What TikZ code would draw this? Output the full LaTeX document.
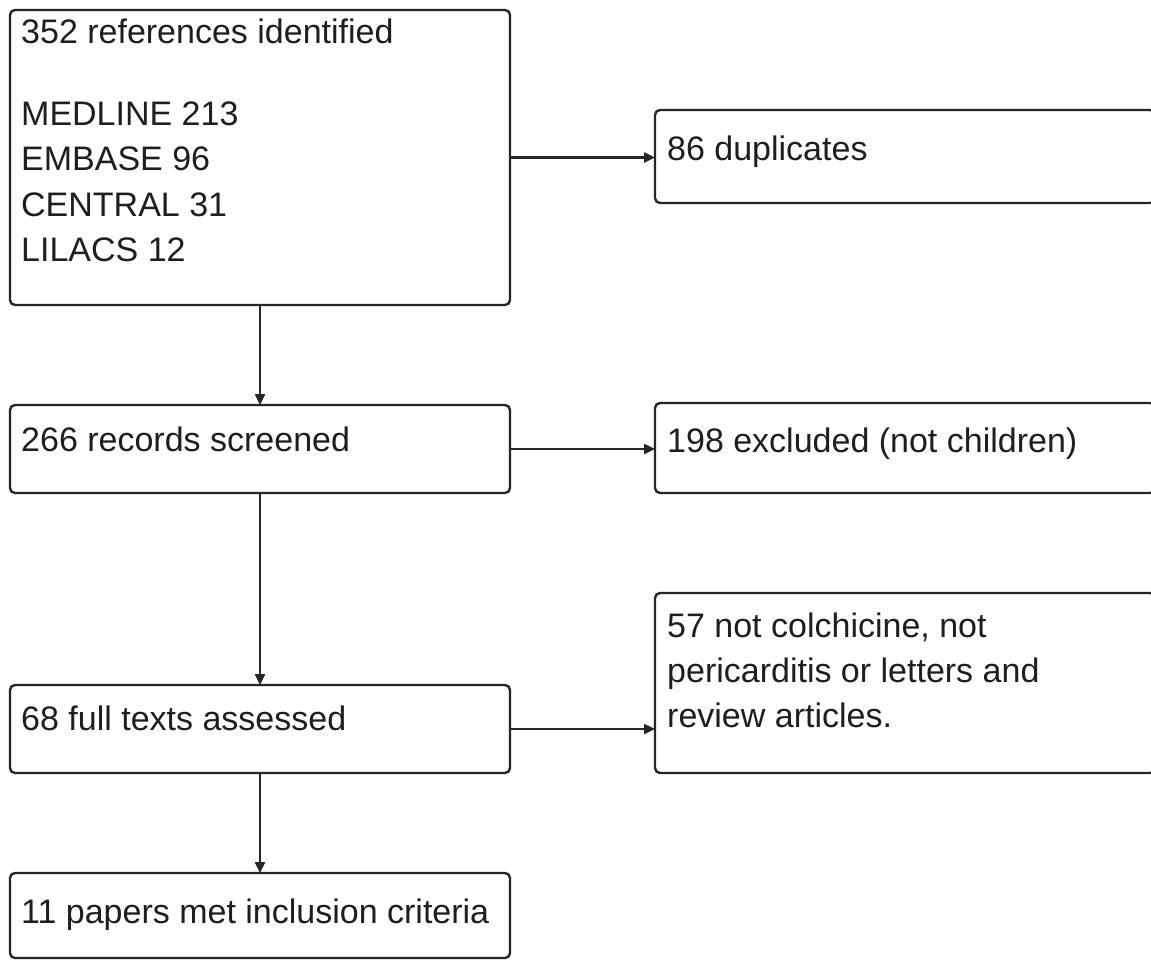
\documentclass[tikz,border=0pt]{standalone}
\usepackage{fontspec}
\setmainfont{Liberation Sans}
\usetikzlibrary{arrows.meta}
\definecolor{ln}{HTML}{262626}
\definecolor{tx}{HTML}{1E1E1E}
\tikzset{
  box/.style={draw=ln, line width=2.4pt, rounded corners=5pt, anchor=north west, inner sep=0pt, outer sep=0pt, fill=white},
  txt/.style={anchor=base west, inner sep=0pt, text=tx, font=\fontsize{34}{40}\selectfont},
  arr/.style={draw=ln, line width=2.4pt, -{Triangle[length=11pt,width=10pt]}},
}
\begin{document}
\begin{tikzpicture}[x=1pt,y=-1pt]
\useasboundingbox[fill=white] (0,0) rectangle (1151,961);
% left column boxes
\node[box, minimum width=500pt, minimum height=295pt] (b1) at (10,10) {};
\node[box, minimum width=500pt, minimum height=88pt] (b2) at (10,405) {};
\node[box, minimum width=500pt, minimum height=88pt] (b3) at (10,685) {};
\node[box, minimum width=500pt, minimum height=85pt] (b4) at (10,873) {};
% right column boxes
\node[box, minimum width=500pt, minimum height=93pt] (r1) at (655,110) {};
\node[box, minimum width=500pt, minimum height=90pt] (r2) at (655,403) {};
\node[box, minimum width=500pt, minimum height=180pt] (r3) at (655,593) {};
% texts
\node[txt] (t1a) at (21,43) {352 references identified};
\node[txt] (t1b) at (21,125) {MEDLINE 213};
\node[txt] (t1c) at (21,170) {EMBASE 96};
\node[txt] (t1d) at (21,216) {CENTRAL 31};
\node[txt] (t1e) at (21,261) {LILACS 12};
\node[txt] (t2) at (21,451) {266 records screened};
\node[txt] (t3) at (21,730) {68 full texts assessed};
\node[txt] (t4) at (21,923) {11 papers met inclusion criteria};
\node[txt] (u1) at (667,160) {86 duplicates};
\node[txt] (u2) at (667,452) {198 excluded (not children)};
\node[txt] (u3a) at (667,637) {57 not colchicine, not};
\node[txt] (u3b) at (667,682) {pericarditis or letters and};
\node[txt] (u3c) at (667,727) {review articles.};
% connectors
\draw[arr] (b1.south) -- (b2.north);
\draw[arr] (b2.south) -- (b3.north);
\draw[arr] (b3.south) -- (b4.north);
\draw[arr] (b1.east) -- (b1.east -| r1.west);
\draw[arr] (b2.east) -- (b2.east -| r2.west);
\draw[arr] (b3.east) -- (b3.east -| r3.west);
\end{tikzpicture}
\end{document}
